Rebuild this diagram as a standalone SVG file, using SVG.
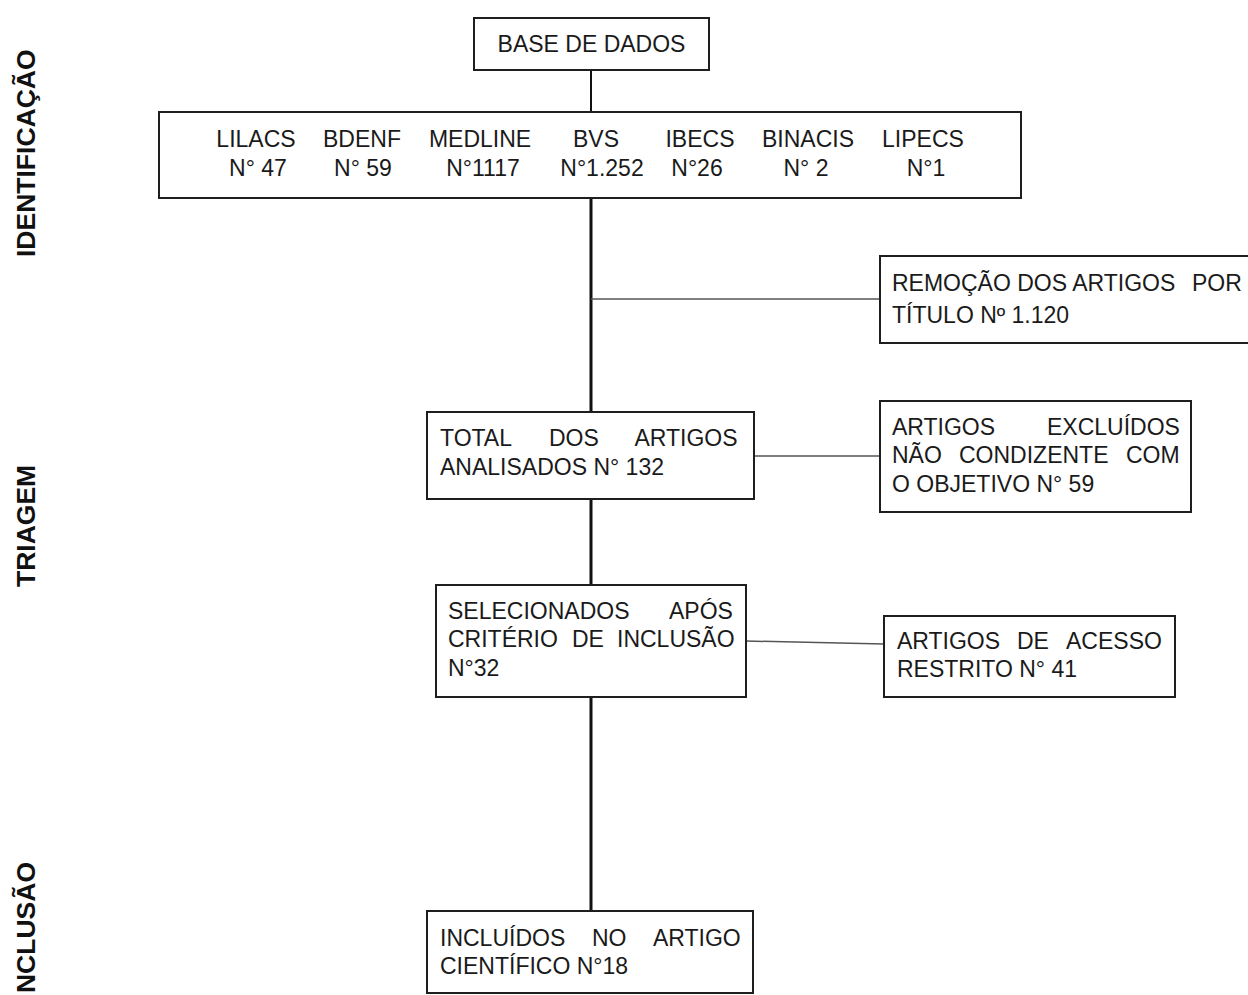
<svg xmlns="http://www.w3.org/2000/svg" width="1248" height="995" viewBox="0 0 1248 995">
<style>
.box{fill:#fff;stroke:#1e1e1e;stroke-width:2}
.t{font-family:"Liberation Sans",Arial,sans-serif;font-size:23px;fill:#1a1a1a}
.c{text-anchor:middle}
.side{font-family:"Liberation Sans",Arial,sans-serif;font-size:26.5px;font-weight:bold;fill:#111}
.main{stroke:#111;stroke-width:3;fill:none}
.thin{stroke:#555;stroke-width:1.5;fill:none}
</style>
<rect width="1248" height="995" fill="#fff"/>
<g id="labels">
<text class="side" transform="translate(35,257) rotate(-90)">IDENTIFICAÇÃO</text>
<text class="side" transform="translate(35,587) rotate(-90)">TRIAGEM</text>
<text class="side" text-anchor="end" transform="translate(35,862) rotate(-90)">INCLUSÃO</text>
</g>
<g id="connectors">
<line class="main" x1="591" y1="70" x2="591" y2="112" style="stroke-width:2"/>
<line class="main" x1="591" y1="198" x2="591" y2="412"/>
<line class="main" x1="591" y1="499" x2="591" y2="585"/>
<line class="main" x1="591" y1="697" x2="591" y2="911"/>
<line class="thin" x1="591" y1="299" x2="880" y2="299"/>
<line class="thin" x1="754" y1="456" x2="880" y2="456"/>
<line class="thin" x1="746" y1="641" x2="884" y2="644"/>
</g>
<g id="base">
<rect class="box" x="474" y="18" width="235" height="52"/>
<text class="t c" x="591.5" y="52">BASE DE DADOS</text>
</g>
<g id="fontes">
<rect class="box" x="159" y="112" width="862" height="86"/>
<text class="t c" y="147"><tspan x="256">LILACS</tspan><tspan x="362">BDENF</tspan><tspan x="480">MEDLINE</tspan><tspan x="596">BVS</tspan><tspan x="700">IBECS</tspan><tspan x="808">BINACIS</tspan><tspan x="923">LIPECS</tspan></text>
<text class="t c" y="176"><tspan x="258">N° 47</tspan><tspan x="363">N° 59</tspan><tspan x="483">N°1117</tspan><tspan x="602">N°1.252</tspan><tspan x="697">N°26</tspan><tspan x="806">N° 2</tspan><tspan x="926">N°1</tspan></text>
</g>
<g id="remocao">
<rect class="box" x="880" y="256" width="380" height="87"/>
<text class="t" y="291"><tspan x="892">REMOÇÃO DOS ARTIGOS</tspan><tspan x="1192">POR</tspan></text>
<text class="t" x="892" y="323">TÍTULO Nº 1.120</text>
</g>
<g id="total">
<rect class="box" x="427" y="412" width="327" height="87"/>
<text class="t" y="446"><tspan x="440">TOTAL</tspan><tspan x="549">DOS</tspan><tspan x="634.5">ARTIGOS</tspan></text>
<text class="t" x="440" y="475">ANALISADOS N° 132</text>
</g>
<g id="excluidos">
<rect class="box" x="880" y="401" width="311" height="111"/>
<text class="t" y="435"><tspan x="892">ARTIGOS</tspan><tspan x="1047">EXCLUÍDOS</tspan></text>
<text class="t" y="463"><tspan x="892">NÃO</tspan><tspan x="959">CONDIZENTE</tspan><tspan x="1126">COM</tspan></text>
<text class="t" x="892" y="492">O OBJETIVO N° 59</text>
</g>
<g id="selecionados">
<rect class="box" x="436" y="585" width="310" height="112"/>
<text class="t" y="619"><tspan x="448">SELECIONADOS</tspan><tspan x="669">APÓS</tspan></text>
<text class="t" y="647"><tspan x="448">CRITÉRIO</tspan><tspan x="572">DE</tspan><tspan x="617">INCLUSÃO</tspan></text>
<text class="t" x="448" y="676">N°32</text>
</g>
<g id="acesso">
<rect class="box" x="884" y="616" width="291" height="81"/>
<text class="t" y="649"><tspan x="897">ARTIGOS</tspan><tspan x="1017">DE</tspan><tspan x="1066">ACESSO</tspan></text>
<text class="t" x="897" y="677">RESTRITO N° 41</text>
</g>
<g id="incluidos">
<rect class="box" x="427" y="911" width="326" height="82"/>
<text class="t" y="946"><tspan x="440">INCLUÍDOS</tspan><tspan x="592">NO</tspan><tspan x="653">ARTIGO</tspan></text>
<text class="t" x="440" y="974">CIENTÍFICO N°18</text>
</g>
</svg>
